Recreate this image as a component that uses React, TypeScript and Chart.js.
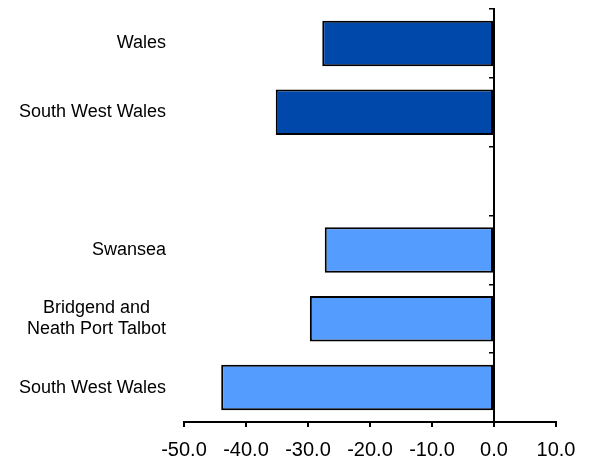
import React, { useEffect, useRef } from "react";
import { Chart, registerables } from "chart.js";

Chart.register(...registerables);

const categories: (string | string[])[] = [
  "Wales",
  "South West Wales",
  "",
  "Swansea",
  ["Bridgend and", "Neath Port Talbot"],
  "South West Wales",
];
const values: (number | null)[] = [-27.7, -35.2, null, -27.3, -29.7, -44.0];
const barColors = ["#0048AA", "#0048AA", "rgba(0,0,0,0)", "#559CFF", "#559CFF", "#559CFF"];
const xMin = -50;
const xMax = 10;
const xStep = 10;

const FONT = '"Liberation Sans", Arial, sans-serif';

const labelPlugin = {
  id: "catLabels",
  afterDraw(chart: any) {
    const ctx = chart.ctx;
    const y = chart.scales.y;
    const right = y.right - 18;
    ctx.save();
    ctx.font = `18px ${FONT}`;
    ctx.fillStyle = "#000";
    ctx.textBaseline = "middle";
    ctx.textAlign = "center";
    categories.forEach((lab, i) => {
      const lines = Array.isArray(lab) ? lab : [lab];
      if (!lines.join("")) return;
      const maxW = Math.max(...lines.map((l) => ctx.measureText(l).width));
      const cx = right - maxW / 2;
      const cy = y.getPixelForValue(i);
      const lh = 21;
      lines.forEach((l, j) => {
        ctx.fillText(l, cx, cy + (j - (lines.length - 1) / 2) * lh);
      });
    });
    ctx.restore();
  },
};

export default function App() {
  const ref = useRef<HTMLCanvasElement>(null);
  useEffect(() => {
    document.body.style.margin = "0";
    const chart = new Chart(ref.current!, {
      type: "bar",
      data: {
        labels: categories as any,
        datasets: [
          {
            data: values,
            backgroundColor: barColors,
            borderColor: "#000",
            borderWidth: 2,
            borderSkipped: false,
            categoryPercentage: 1,
            barPercentage: 0.66,
            xAxisID: "x",
            yAxisID: "y",
          },
        ],
      },
      plugins: [labelPlugin],
      options: {
        indexAxis: "y",
        animation: false,
        responsive: false,
        maintainAspectRatio: false,
        layout: { padding: { top: 9, right: 34, bottom: 0, left: 0 } },
        plugins: { legend: { display: false }, tooltip: { enabled: false } },
        scales: {
          x: {
            type: "linear",
            position: "bottom",
            min: xMin,
            max: xMax,
            ticks: {
              stepSize: xStep,
              color: "#000",
              font: { family: FONT, size: 20 },
              padding: 11,
              callback: (v: any) => Number(v).toFixed(1),
            },
            grid: { display: true, drawOnChartArea: false, tickLength: 5, color: "#000", lineWidth: 2 },
            border: { display: true, color: "#000", width: 2 },
            afterFit: (s: any) => {
              s.height = 40;
            },
          },
          y: {
            type: "category",
            position: "left",
            offset: true,
            ticks: { display: false },
            grid: { display: false },
            border: { display: false },
            afterFit: (s: any) => {
              s.width = 184;
            },
          },
          y2: {
            type: "category",
            axis: "y",
            position: { x: 0 } as any,
            offset: true,
            ticks: { display: false },
            grid: { display: true, drawOnChartArea: false, offset: true, tickLength: 4, color: "#000", lineWidth: 1.5 },
            border: { display: true, color: "#000", width: 2 },
          },
        } as any,
      },
    });
    return () => chart.destroy();
  }, []);
  return (
    <div style={{ width: 590, height: 462 }}>
      <canvas ref={ref} width={590} height={462} style={{ display: "block" }} />
    </div>
  );
}
